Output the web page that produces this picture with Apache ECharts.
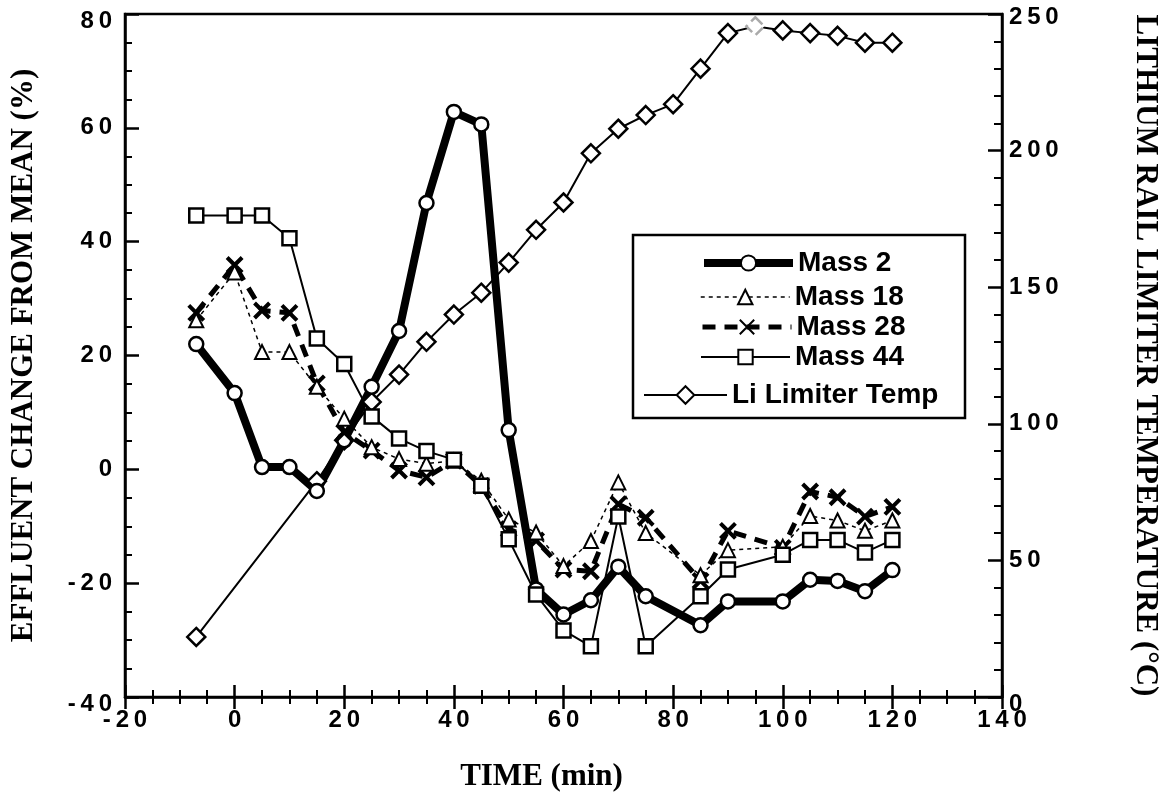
<!DOCTYPE html>
<html>
<head>
<meta charset="utf-8">
<script src="https://cdn.jsdelivr.net/npm/echarts@6/dist/echarts.min.js"></script>
<style>
html,body{margin:0;padding:0;background:#fff;}
#chart{width:1169px;height:811px;}
</style>
</head>
<body>
<div id="chart"></div>
<script>
// ---- data ----
var massTimes = [-7, 0, 5, 10, 15, 20, 25, 30, 35, 40, 45, 50, 55, 60, 65, 70, 75, 85, 90, 100, 105, 110, 115, 120];
var mass2  = [22, 13.4, 0.4, 0.4, -3.8, 5.1, 14.5, 24.3, 46.8, 62.8, 60.6, 6.9, -21.1, -25.5, -23.0, -17.1, -22.3, -27.4, -23.2, -23.2, -19.4, -19.6, -21.4, -17.7];
var mass18 = [26.2, 34.6, 20.6, 20.6, 14.5, 8.9, 3.9, 1.8, 1.0, 1.5, -2.0, -8.8, -11.1, -17.0, -12.6, -2.3, -11.2, -18.6, -14.2, -13.6, -8.2, -9.0, -10.8, -9.0];
var mass28 = [27.5, 35.9, 27.9, 27.5, 15.1, 6.5, 3.3, -0.2, -1.4, 1.5, -2.9, -10.5, -12.5, -17.6, -17.9, -6.1, -8.5, -19.6, -10.8, -13.8, -3.9, -4.9, -8.3, -6.6];
var mass44 = [44.6, 44.6, 44.6, 40.6, 23.0, 18.5, 9.3, 5.4, 3.2, 1.7, -2.9, -12.3, -22.0, -28.3, -31.1, -8.3, -31.1, -22.3, -17.6, -15.0, -12.4, -12.4, -14.6, -12.4];
var tempTimes = [-7, 15, 20, 25, 30, 35, 40, 45, 50, 55, 60, 65, 70, 75, 80, 85, 90, 95, 100, 105, 110, 115, 120];
var tempVals  = [22, 79, 94, 108, 118, 130, 140, 148, 159, 171, 181, 199, 208, 213, 217, 230, 243, 245.5, 244, 243, 242, 239.5, 239.5];
var seriesNames = ['Mass 2', 'Mass 18', 'Mass 28', 'Mass 44', 'Li Limiter Temp'];
var xTitle = 'TIME (min)';
var yLeftTitle = 'EFFLUENT CHANGE FROM MEAN (%)';
var yRightTitle = 'LITHIUM RAIL LIMITER TEMPERATURE (\u00B0C)';

function pairs(xs, ys){ return xs.map(function(x,i){ return [x, ys[i]]; }); }

var tempData = pairs(tempTimes, tempVals).map(function(p, i){
  if (tempTimes[i] === 95) {
    return {value: p, itemStyle: {borderColor: '#aaa', borderType: 'dashed'}};
  }
  return p;
});

var chart = echarts.init(document.getElementById('chart'), null, {renderer: 'canvas'});
var FONT_SANS = '"Liberation Sans", Arial, sans-serif';
function spaced(v){ return String(v).split('').join('\u2009'); }
// end labels of the vertical axes sit a little lower than their ticks
function yFormatter(lo, hi, shiftHi){
  return function(v){
    if (v === hi) return '{' + shiftHi + '|' + spaced(v) + '}';
    if (v === lo) return '{d|' + spaced(v) + '}';
    return spaced(v);
  };
}
var richEnds = {
  d:  {fontFamily: FONT_SANS, fontWeight: 'bold', fontSize: 24, color: '#000', padding: [14, 0, 0, 0]},
  u:  {fontFamily: FONT_SANS, fontWeight: 'bold', fontSize: 24, color: '#000', padding: [14, 0, 0, 0]},
  u2: {fontFamily: FONT_SANS, fontWeight: 'bold', fontSize: 24, color: '#000', padding: [7, 0, 0, 0]}
};
var tickFont = {fontFamily: FONT_SANS, fontWeight: 'bold', fontSize: 24, color: '#000'};
var titleFont = {fontFamily: '"Liberation Serif", "Times New Roman", serif', fontWeight: 'bold', fontSize: 31, color: '#000'};
var legendText = {fontFamily: FONT_SANS, fontWeight: 'bold', fontSize: 28, color: '#000', lineHeight: 30};

function legendRow(name, left, centerY, w, h, lw){
  return {
    data: [name], left: left, top: centerY - 15, orient: 'horizontal',
    itemWidth: w, itemHeight: h, padding: 0, itemGap: 0,
    lineStyle: {width: lw},
    textStyle: legendText, selectedMode: false
  };
}

var option = {
  backgroundColor: '#fff',
  animation: false,
  grid: {left: 113, right: 144, top: 14, bottom: 114, show: true, borderColor: '#000', borderWidth: 2.5, containLabel: false},
  legend: [
    legendRow('Mass 2', 700, 263, 89, 19, 8),
    legendRow('Mass 18', 700, 297, 89, 18, 1.5),
    legendRow('Mass 28', 700, 327, 89, 18, 5),
    legendRow('Mass 44', 700, 357, 89, 18, 2),
    legendRow('Li Limiter Temp', 643, 395, 83, 22, 2)
  ],
  graphic: [{
    type: 'rect', shape: {x: 633, y: 235, width: 332, height: 183},
    style: {fill: 'none', stroke: '#000', lineWidth: 2.5}, z: 0
  }],
  xAxis: [{
    type: 'value', min: -20, max: 140, interval: 20,
    name: xTitle, nameLocation: 'middle', nameGap: 64,
    nameTextStyle: Object.assign({padding: [0, 44, 0, 0]}, titleFont),
    axisLine: {show: true, onZero: false, lineStyle: {color: '#000', width: 2.5}},
    axisTick: {show: true, inside: false, length: 12, lineStyle: {color: '#000', width: 2.5}},
    minorTick: {show: true, splitNumber: 4, length: 7, lineStyle: {color: '#000', width: 2}},
    axisLabel: Object.assign({margin: 11, formatter: spaced}, tickFont),
    splitLine: {show: false}
  }, {
    type: 'value', min: -20, max: 140, interval: 20, position: 'bottom',
    axisLine: {show: false, onZero: false},
    axisTick: {show: true, inside: true, length: 12, lineStyle: {color: '#000', width: 2.5}},
    minorTick: {show: true, splitNumber: 4, length: 7, lineStyle: {color: '#000', width: 2}},
    axisLabel: {show: false}, splitLine: {show: false}
  }],
  yAxis: [{
    type: 'value', min: -40, max: 80, interval: 20, position: 'left',
    name: yLeftTitle, nameLocation: 'middle', nameGap: 86, nameTextStyle: titleFont,
    axisLine: {show: true, onZero: false, lineStyle: {color: '#000', width: 2.5}},
    axisTick: {show: true, inside: true, length: 14, lineStyle: {color: '#000', width: 2.5}},
    minorTick: {show: true, splitNumber: 4, length: 7, lineStyle: {color: '#000', width: 2}},
    axisLabel: Object.assign({margin: 13, formatter: yFormatter(-40, 80, 'u'), rich: richEnds}, tickFont),
    splitLine: {show: false}
  }, {
    type: 'value', min: 0, max: 250, interval: 50, position: 'right',
    name: yRightTitle, nameLocation: 'middle', nameGap: 128, nameRotate: -90, nameTextStyle: titleFont,
    axisLine: {show: true, onZero: false, lineStyle: {color: '#000', width: 2.5}},
    axisTick: {show: true, inside: true, length: 14, lineStyle: {color: '#000', width: 2.5}},
    minorTick: {show: true, splitNumber: 5, length: 8, lineStyle: {color: '#000', width: 2}},
    axisLabel: Object.assign({margin: 7, formatter: yFormatter(0, 250, 'u2'), rich: richEnds}, tickFont),
    splitLine: {show: false}
  }],
  series: [{
    name: seriesNames[4], type: 'line', yAxisIndex: 1, data: tempData,
    symbol: 'diamond', symbolSize: 18,
    lineStyle: {color: '#000', width: 2},
    itemStyle: {color: '#fff', borderColor: '#000', borderWidth: 2.5}
  }, {
    name: seriesNames[0], type: 'line', data: pairs(massTimes, mass2),
    symbol: 'circle', symbolSize: 14,
    lineStyle: {color: '#000', width: 8},
    itemStyle: {color: '#fff', borderColor: '#000', borderWidth: 2.5}
  }, {
    name: seriesNames[2], type: 'line', data: pairs(massTimes, mass28),
    symbol: 'path://M0,0L10,10M10,0L0,10', symbolSize: 15,
    lineStyle: {color: '#000', width: 5, type: [13, 9]},
    itemStyle: {color: '#000', borderColor: '#000', borderWidth: 4}
  }, {
    name: seriesNames[1], type: 'line', data: pairs(massTimes, mass18),
    symbol: 'triangle', symbolSize: 14,
    lineStyle: {color: '#000', width: 1.5, type: [4, 4]},
    itemStyle: {color: '#fff', borderColor: '#000', borderWidth: 2}
  }, {
    name: seriesNames[3], type: 'line', data: pairs(massTimes, mass44),
    symbol: 'rect', symbolSize: 14,
    lineStyle: {color: '#000', width: 2},
    itemStyle: {color: '#fff', borderColor: '#000', borderWidth: 2.5}
  }]
};
chart.setOption(option);
</script>
</body>
</html>
